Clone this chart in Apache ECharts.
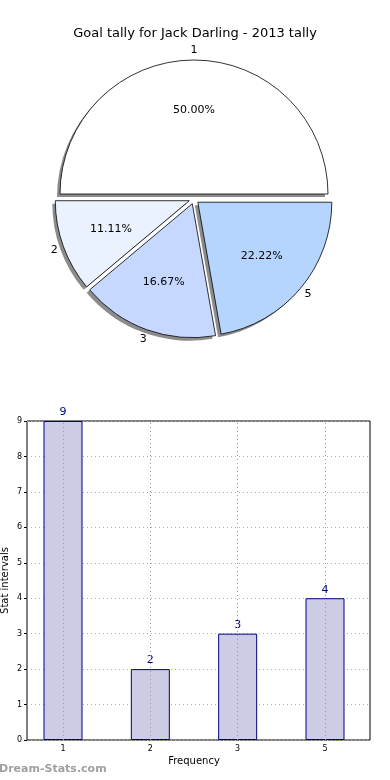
<!DOCTYPE html>
<html>
<head>
<meta charset="utf-8">
<script src="https://cdn.jsdelivr.net/npm/echarts@6/dist/echarts.min.js"></script>
<style>html,body{margin:0;padding:0;background:#fff;}#c{width:390px;height:780px;}</style>
</head>
<body>
<div id="c"></div>
<script>
var titleText = 'Goal tally for Jack Darling - 2013 tally';
var categories = ['1', '2', '3', '5'];
var counts = [9, 2, 3, 4];
var sliceColors = ['#ffffff', '#eaf2ff', '#c6d8ff', '#b5d5ff'];
var yTicks = [0, 1, 2, 3, 4, 5, 6, 7, 8, 9];

var FONT = 'DejaVu Sans';
var total = counts.reduce(function (a, b) { return a + b; }, 0);
var R = 134;
var CENTER = [194, 199];
var SHADOW_CENTER = [191, 202];
var OFFSET = 5;

function pieData(styleFn) {
  return categories.map(function (c, i) {
    return { name: c, value: counts[i], selected: true, itemStyle: styleFn(i) };
  });
}

function pieSeries(center, radius, z, styleFn, label) {
  return {
    type: 'pie', center: center, radius: radius, startAngle: 0, clockwise: false,
    selectedMode: 'multiple', selectedOffset: OFFSET, silent: true, z: z,
    data: pieData(styleFn),
    label: label || { show: false }, labelLine: { show: false },
    emphasis: { disabled: true }
  };
}

var gridLineStyle = { color: '#9a9a9a', type: [1, 3], width: 1 };

var chart = echarts.init(document.getElementById('c'), null, { renderer: 'canvas' });
chart.setOption({
  animation: false,
  backgroundColor: '#ffffff',
  title: {
    text: titleText, left: 'center', top: 22,
    textStyle: { fontFamily: FONT, fontSize: 13, fontWeight: 'normal', color: '#000' }
  },
  graphic: [{
    type: 'text', left: -1, top: 764,
    style: { text: 'Dream-Stats.com', fontFamily: FONT, fontSize: 11, fontWeight: 'bold', fill: '#a0a0a0' }
  }],
  grid: [
    { left: 27, right: 20, top: 421, bottom: 40, show: true, borderColor: '#000', borderWidth: 1,
      backgroundColor: 'transparent', containLabel: false, outerBoundsMode: 'none' },
    { left: 63, right: 65, top: 421, bottom: 40, containLabel: false, outerBoundsMode: 'none' }
  ],
  xAxis: [
    { gridIndex: 0, type: 'value', min: 0, max: 1, show: false },
    {
      gridIndex: 1, type: 'category', data: categories, boundaryGap: false,
      name: 'Frequency', nameLocation: 'middle', nameGap: 16,
      nameTextStyle: { fontFamily: FONT, fontSize: 10, color: '#000' },
      axisLine: { show: false },
      axisTick: { show: false },
      axisLabel: { fontFamily: FONT, fontSize: 8, color: '#000', margin: 5 },
      splitLine: { show: false }
    }
  ],
  yAxis: [
    {
      gridIndex: 0, type: 'value', min: 0, max: 9, interval: 1,
      name: 'Stat intervals', nameLocation: 'middle', nameGap: 17, nameMoveOverlap: false,
      nameTextStyle: { fontFamily: FONT, fontSize: 10, color: '#000' },
      axisLine: { show: false },
      axisTick: { show: true, length: 3, lineStyle: { color: '#000' } },
      axisLabel: { fontFamily: FONT, fontSize: 8, color: '#000', margin: 5,
        formatter: function (v) { return yTicks.indexOf(v) >= 0 ? String(v) : ''; } },
      splitLine: { show: true, lineStyle: { color: '#b0b0b0', type: [1, 3], width: 1 } }
    },
    { gridIndex: 1, type: 'value', min: 0, max: 9, interval: 1, show: false, splitLine: { show: false } }
  ],
  series: [
    pieSeries(SHADOW_CENTER, R, 1, function () { return { color: '#8c8c8c', borderWidth: 0 }; }),
    pieSeries(CENTER, R, 2, function (i) {
      return { color: sliceColors[i], borderColor: '#000', borderWidth: 0.8 };
    }),
    pieSeries(CENTER, R * 1.2, 3, function () { return { color: 'transparent', borderWidth: 0 }; },
      { show: true, position: 'inside', fontFamily: FONT, fontSize: 11, color: '#000',
        formatter: function (p) { return (p.value / total * 100).toFixed(2) + '%'; } }),
    pieSeries(CENTER, R * 2.1, 3, function () { return { color: 'transparent', borderWidth: 0 }; },
      { show: true, position: 'inside', fontFamily: FONT, fontSize: 11, color: '#000', formatter: '{b}' }),
    {
      type: 'bar', xAxisIndex: 1, yAxisIndex: 1, data: counts, barWidth: 39, clip: false, z: 2,
      itemStyle: { color: '#ccccE5', borderColor: '#000080', borderWidth: 1 },
      label: { show: true, position: 'top', distance: 3, fontFamily: FONT, fontSize: 11, color: '#000080' },
      emphasis: { disabled: true }
    },
    {
      type: 'line', xAxisIndex: 1, yAxisIndex: 1, data: [], z: 8, silent: true,
      markLine: {
        silent: true, symbol: 'none', label: { show: false }, animation: false,
        lineStyle: gridLineStyle, emphasis: { disabled: true },
        data: categories.map(function (c, i) { return { xAxis: i }; })
      }
    }
  ]
});
</script>
</body>
</html>
